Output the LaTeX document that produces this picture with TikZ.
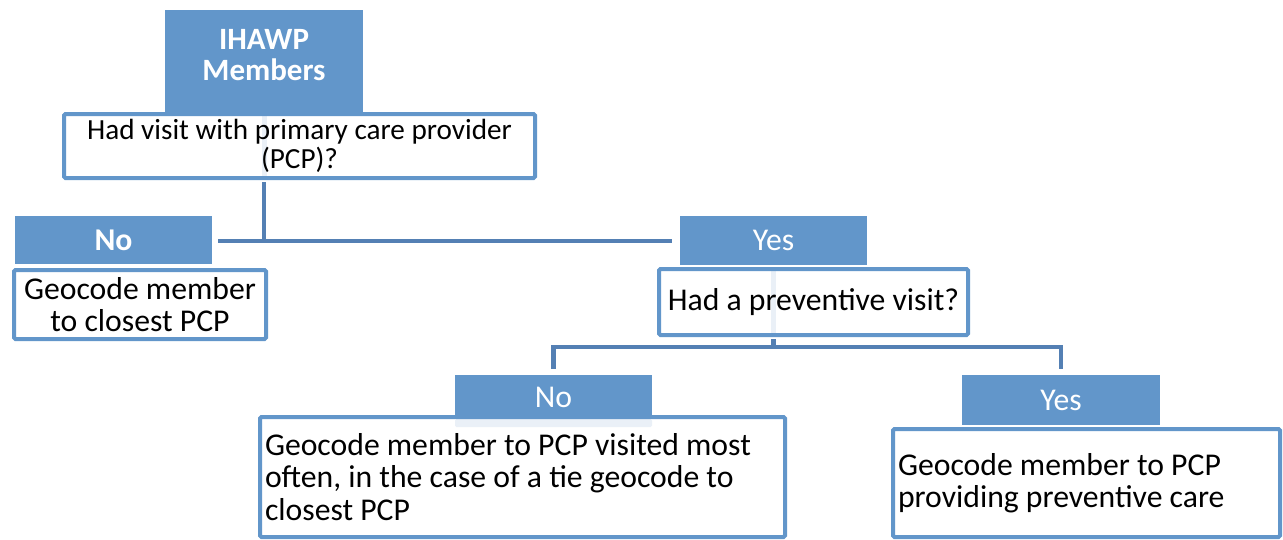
\documentclass[tikz,border=0pt]{standalone}
\usepackage{fontspec}
\setmainfont{Carlito}
\definecolor{boxblue}{RGB}{98,150,202}
\definecolor{lineblue}{RGB}{84,128,180}
\definecolor{palecol}{RGB}{234,240,247}
\begin{document}
\begin{tikzpicture}[x=1pt,y=-1pt,
  fillbox/.style={fill=boxblue, draw=none, inner sep=0pt, text=white},
  framebox/.style={draw=boxblue, line width=4pt, fill=white, inner sep=0pt, rounded corners=1.5pt},
  conn/.style={draw=lineblue, line width=4.5pt},
  ghost/.style={draw=palecol, line width=5pt},
  body/.style={font=\fontsize{31.7}{32.5}\selectfont}]
\useasboundingbox (0,0) rectangle (1283,539);
\coordinate (g1) at (264,0);
\coordinate (g2) at (773.5,0);
\coordinate (nbL) at (455,419);
\coordinate (nbR) at (652,427);
% top
\node[fillbox, minimum width=198pt, minimum height=102pt] (ihawp) at (264,61) {};
\node[text=white, font=\fontsize{31}{31}\selectfont\bfseries, align=center, inner sep=0pt] (ihawptxt) at (264,55) {IHAWP\\Members};
\node[framebox, minimum width=471pt, minimum height=64pt, align=center, font=\fontsize{29.2}{29}\selectfont,
  path picture={\draw[ghost] (g1 |- path picture bounding box.north) -- (g1 |- path picture bounding box.south);}] (q1) at (299.5,146) {Had visit with primary care provider\\(PCP)?};
% left branch
\node[fillbox, minimum width=197pt, minimum height=48pt, font=\fontsize{31.7}{32.5}\selectfont\bfseries] (noL) at (113.5,240) {No};
\node[framebox, minimum width=252pt, minimum height=69pt, align=center, body] (geoL) at (140,304.5) {Geocode member\\to closest PCP};
% right branch
\node[fillbox, minimum width=187pt, minimum height=49pt, body] (yesA) at (773.5,240) {Yes};
\node[framebox, minimum width=309pt, minimum height=66pt, body,
  path picture={\draw[ghost] (g2 |- path picture bounding box.north) -- (g2 |- path picture bounding box.south);}] (prev) at (813.5,302) {Had a preventive visit?};
% bottom
\node[framebox, minimum width=525pt, minimum height=120pt, text width=515pt, align=flush left, body,
  path picture={\fill[palecol] (nbL) rectangle (nbR);}] (big) at (522.5,477) {Geocode member to PCP visited most\\often, in the case of a tie geocode to\\closest PCP};
\node[fillbox, minimum width=197pt, minimum height=44pt, body] (noB) at (553.5,397) {No};
\node[fillbox, minimum width=198pt, minimum height=50pt, body] (yesB) at (1061,400) {Yes};
\node[framebox, minimum width=387pt, minimum height=108pt, text width=377pt, align=flush left, body] (rgt) at (1086.5,483) {Geocode member to PCP\\providing preventive care};
% connectors
\coordinate (bus1) at (0,241);
\coordinate (bus2) at (0,347);
\coordinate (s1) at (ihawp.center |- q1.south);
\coordinate (s2) at (yesA.center |- prev.south);
\draw[conn] ([yshift=-2pt]s1) -- (ihawp.center |- bus1);
\draw[conn] ([xshift=6pt]noL.east |- bus1) -- ([xshift=-8pt]yesA.west |- bus1);
\draw[conn] ([yshift=-2pt]s2) -- (yesA.center |- bus2);
\draw[conn] ([yshift=6pt]noB.north) |- (bus2 -| yesB.north) -- ([yshift=6pt]yesB.north);
\end{tikzpicture}
\end{document}
